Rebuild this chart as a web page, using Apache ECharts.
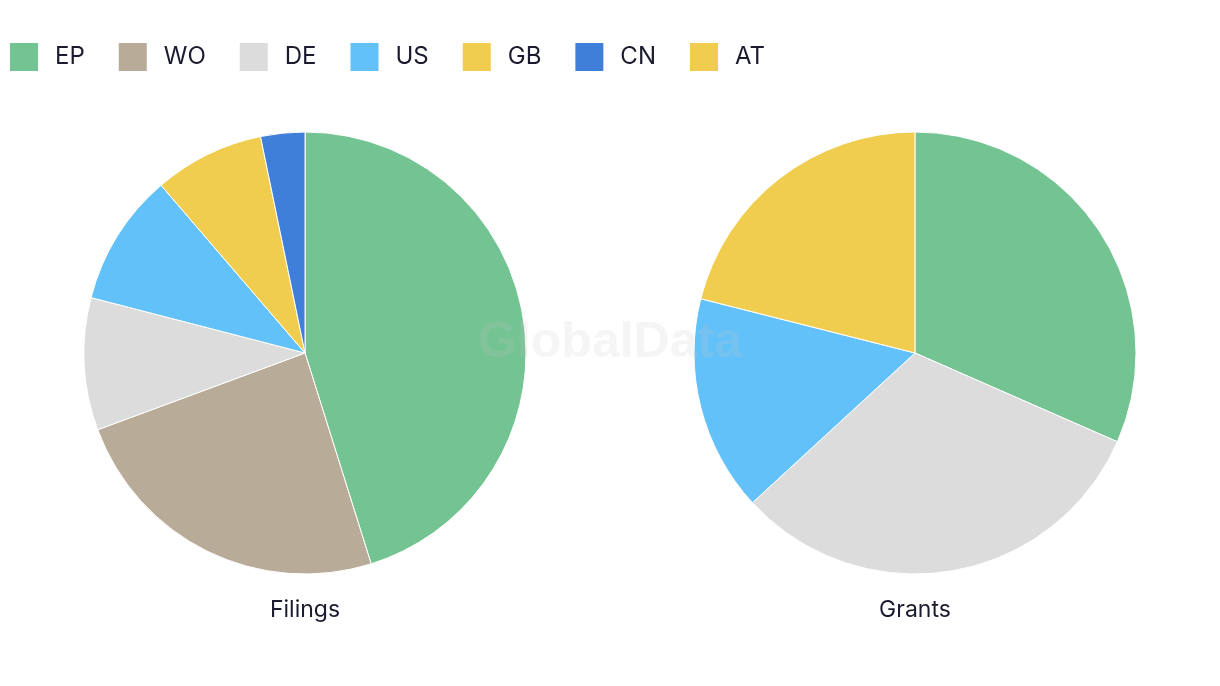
<!DOCTYPE html>
<html>
<head>
<meta charset="utf-8">
<script src="https://cdn.jsdelivr.net/npm/echarts@6/dist/echarts.min.js"></script>
<style>html,body{margin:0;padding:0;background:#fff;}#c{width:1220px;height:686px;}</style>
</head>
<body>
<div id="c"></div>
<script>
const legendNames = ['EP','WO','DE','US','GB','CN','AT'];
const colors = {EP:'#74c392',WO:'#b8ab98',DE:'#dcdcdc',US:'#63c1f9',GB:'#f0cd4f',CN:'#407fd9',AT:'#f0cd4f'};
const filingsCats = ['EP','WO','DE','US','GB','CN'];
const filingsVals = [28,15,6,6,5,2];
const grantsCats = ['EP','DE','US','AT'];
const grantsVals = [6,6,3,4];
const pieTitles = ['Filings','Grants'];

const mk = (cats, vals) => cats.map((c,i)=>({name:c,value:vals[i],itemStyle:{color:colors[c]}}));
const font = 'Inter, "Noto Sans", sans-serif';
const chart = echarts.init(document.getElementById('c'));
chart.setOption({
  animation:false,
  color: legendNames.map(n=>colors[n]),
  legend:{
    data: legendNames.map(n=>({name:n,itemStyle:{color:colors[n],borderWidth:0}})),
    left:10, top:43, padding:0, itemWidth:28, itemHeight:28, itemGap:34, icon:'rect',
    itemStyle:{borderWidth:0},
    textStyle:{fontSize:24, color:'#1b1b2f', fontFamily:font, padding:[0,0,0,12]}
  },
  title: pieTitles.map((t,i)=>({text:t, left: i===0?305:915, top:599, padding:0, textAlign:'center',
    textStyle:{fontSize:23,fontWeight:'normal',color:'#1b1b2f',fontFamily:font}})),
  graphic:[{type:'text', left:'center', top:318, z:100, silent:true,
    style:{text:'GlobalData', font:'bold 50px "Liberation Sans", Arial, sans-serif', fill:'rgba(200,200,200,0.18)'}}],
  series:[
    {type:'pie', center:[305,353], radius:221, startAngle:90, clockwise:true, label:{show:false}, labelLine:{show:false},
     itemStyle:{borderColor:'#fff',borderWidth:1}, data: mk(filingsCats, filingsVals)},
    {type:'pie', center:[915,353], radius:221, startAngle:90, clockwise:true, label:{show:false}, labelLine:{show:false},
     itemStyle:{borderColor:'#fff',borderWidth:1}, data: mk(grantsCats, grantsVals)}
  ]
});
</script>
</body>
</html>
